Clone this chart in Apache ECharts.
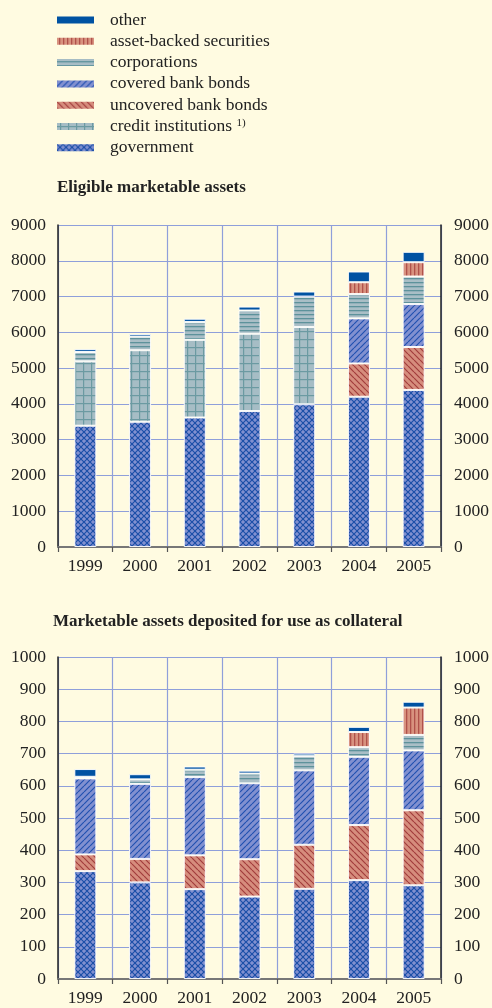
<!DOCTYPE html>
<html>
<head>
<meta charset="utf-8">
<script src="https://cdn.jsdelivr.net/npm/echarts@6/dist/echarts.min.js"></script>
<style>
  html, body { margin: 0; padding: 0; background: #fffbe1; }
  #chart { width: 492px; height: 1008px; }
</style>
</head>
<body>
<div id="chart"></div>
<script>
const years = ['1999', '2000', '2001', '2002', '2003', '2004', '2005'];
const seriesNames = ['government', 'credit institutions', 'uncovered bank bonds', 'covered bank bonds', 'corporations', 'asset-backed securities', 'other'];

// Eligible marketable assets (EUR bn)
const eligibleGovernment = [3390, 3500, 3620, 3800, 3990, 4200, 4390];
const eligibleCredit = [1800, 2000, 2170, 2160, 2160, null, null];
const eligibleUncovered = [null, null, null, null, null, 930, 1200];
const eligibleCovered = [null, null, null, null, null, 1260, 1200];
const eligibleCorporations = [260, 380, 500, 650, 850, 680, 770];
const eligibleAbs = [null, null, null, null, null, 330, 400];
const eligibleOther = [80, 70, 90, 110, 140, 300, 290];

// Marketable assets deposited for use as collateral (EUR bn)
const depositedGovernment = [335, 300, 279, 256, 280, 307, 291];
const depositedCredit = [null, null, null, null, null, null, null];
const depositedUncovered = [52, 73, 105, 116, 137, 171, 233];
const depositedCovered = [236, 233, 243, 236, 231, 212, 186];
const depositedCorporations = [5, 14, 23, 30, 44, 30, 48];
const depositedAbs = [null, null, null, null, null, 47, 85];
const depositedOther = [24, 16, 10, 9, 8, 16, 18];

const eligibleTicks = { min: 0, max: 9000, interval: 1000 };
const depositedTicks = { min: 0, max: 1000, interval: 100 };

const FONT = 'Liberation Serif';

function makePattern(bg, fg, kind) {
  const size = kind === 'grid' ? 8 : kind === 'vert' ? 4 : kind === 'horiz' ? 4 : 6;
  const c = document.createElement('canvas');
  c.width = size;
  c.height = size;
  const ctx = c.getContext('2d');
  ctx.fillStyle = bg;
  ctx.fillRect(0, 0, size, size);
  ctx.strokeStyle = fg;
  ctx.fillStyle = fg;
  ctx.lineWidth = 1.2;
  const diag = (dir) => {
    ctx.beginPath();
    for (let k = -1; k <= 1; k += 1) {
      if (dir > 0) {
        ctx.moveTo(k * size, size);
        ctx.lineTo(k * size + size, 0);
      } else {
        ctx.moveTo(k * size, 0);
        ctx.lineTo(k * size + size, size);
      }
    }
    ctx.stroke();
  };
  if (kind === 'cross') { diag(1); diag(-1); }
  if (kind === 'fwd') diag(1);
  if (kind === 'back') diag(-1);
  if (kind === 'vert') ctx.fillRect(2, 0, 1.3, size);
  if (kind === 'horiz') ctx.fillRect(0, 2, size, 1.3);
  if (kind === 'grid') {
    ctx.fillRect(3, 0, 1.2, size);
    ctx.fillRect(0, 3, size, 1.2);
  }
  return { image: c, repeat: 'repeat' };
}

const fills = {
  'government': makePattern('#8190d0', '#1b4fa8', 'cross'),
  'credit institutions': makePattern('#a6bdc5', '#6b9aa2', 'grid'),
  'uncovered bank bonds': makePattern('#d68d7d', '#a23d3d', 'back'),
  'covered bank bonds': makePattern('#8190d0', '#2251b0', 'fwd'),
  'corporations': makePattern('#a9bec6', '#5d929b', 'horiz'),
  'asset-backed securities': makePattern('#d8927f', '#b0514b', 'vert'),
  'other': '#0052a2'
};

const eligibleData = [eligibleGovernment, eligibleCredit, eligibleUncovered, eligibleCovered, eligibleCorporations, eligibleAbs, eligibleOther];
const depositedData = [depositedGovernment, depositedCredit, depositedUncovered, depositedCovered, depositedCorporations, depositedAbs, depositedOther];

function buildSeries(dataSets, axisIndex, stack) {
  return seriesNames.map((name, i) => ({
    name,
    type: 'bar',
    stack,
    xAxisIndex: axisIndex,
    yAxisIndex: axisIndex * 2,
    barWidth: 22,
    itemStyle: { color: fills[name], borderColor: 'rgba(255,255,255,0.9)', borderWidth: 1 },
    emphasis: { disabled: true },
    data: dataSets[i]
  }));
}

const gridLine = { lineStyle: { color: '#8f9fda', width: 1.2 } };
const plainNumber = (v) => String(v);

function yAxes(gridIndex, ticks) {
  return [
    {
      type: 'value', gridIndex, position: 'left', ...ticks,
      axisLine: { show: true, lineStyle: { color: '#222', width: 1.5 } },
      axisTick: { show: false },
      axisLabel: { fontFamily: FONT, fontSize: 17.5, color: '#222', margin: 12, formatter: plainNumber },
      splitLine: { show: true, ...gridLine }
    },
    {
      type: 'value', gridIndex, position: 'right', ...ticks,
      axisLine: { show: true, lineStyle: { color: '#222', width: 1.5 } },
      axisTick: { show: false },
      axisLabel: { fontFamily: FONT, fontSize: 17.5, color: '#222', margin: 13, formatter: plainNumber },
      splitLine: { show: false }
    }
  ];
}

function xAxis(gridIndex) {
  return {
    type: 'category', gridIndex, data: years,
    axisLine: { show: true, lineStyle: { color: '#777', width: 2 } },
    axisTick: { show: true, length: 5, lineStyle: { color: '#555', width: 1.2 } },
    axisLabel: { fontFamily: FONT, fontSize: 17.5, color: '#222', margin: 10 },
    splitLine: { show: true, ...gridLine }
  };
}

const chart = echarts.init(document.getElementById('chart'), null, { renderer: 'canvas' });

chart.setOption({
  backgroundColor: '#fffbe1',
  animation: false,
  title: [
    { text: 'Eligible marketable assets', left: 57, top: 179, padding: 0,
      textStyle: { fontFamily: FONT, fontSize: 17, fontWeight: 'bold', color: '#222' } },
    { text: 'Marketable assets deposited for use as collateral', left: 53, top: 613, padding: 0,
      textStyle: { fontFamily: FONT, fontSize: 17, fontWeight: 'bold', color: '#222' } }
  ],
  legend: {
    orient: 'vertical',
    left: 57,
    top: 11,
    padding: 0,
    itemWidth: 37,
    itemHeight: 7,
    itemGap: 3.3,
    icon: 'rect',
    selectedMode: false,
    data: seriesNames.slice().reverse(),
    formatter: (name) => (name === 'credit institutions' ? 'credit institutions {sup|1)}' : name),
    textStyle: {
      fontFamily: FONT, fontSize: 17.5, color: '#222', lineHeight: 17, padding: [0, 0, 0, 11],
      rich: { sup: { fontFamily: FONT, fontSize: 11, color: '#222', verticalAlign: 'top', padding: [0, 0, 6, 0] } }
    },
    itemStyle: { borderWidth: 0 }
  },
  grid: [
    { left: 58, right: 45, top: 225, height: 322 },
    { left: 58, right: 44, top: 657, height: 322 }
  ],
  xAxis: [xAxis(0), xAxis(1)],
  yAxis: [...yAxes(0, eligibleTicks), ...yAxes(1, depositedTicks)],
  series: [...buildSeries(eligibleData, 0, 'eligible'), ...buildSeries(depositedData, 1, 'deposited')]
});
</script>
</body>
</html>
